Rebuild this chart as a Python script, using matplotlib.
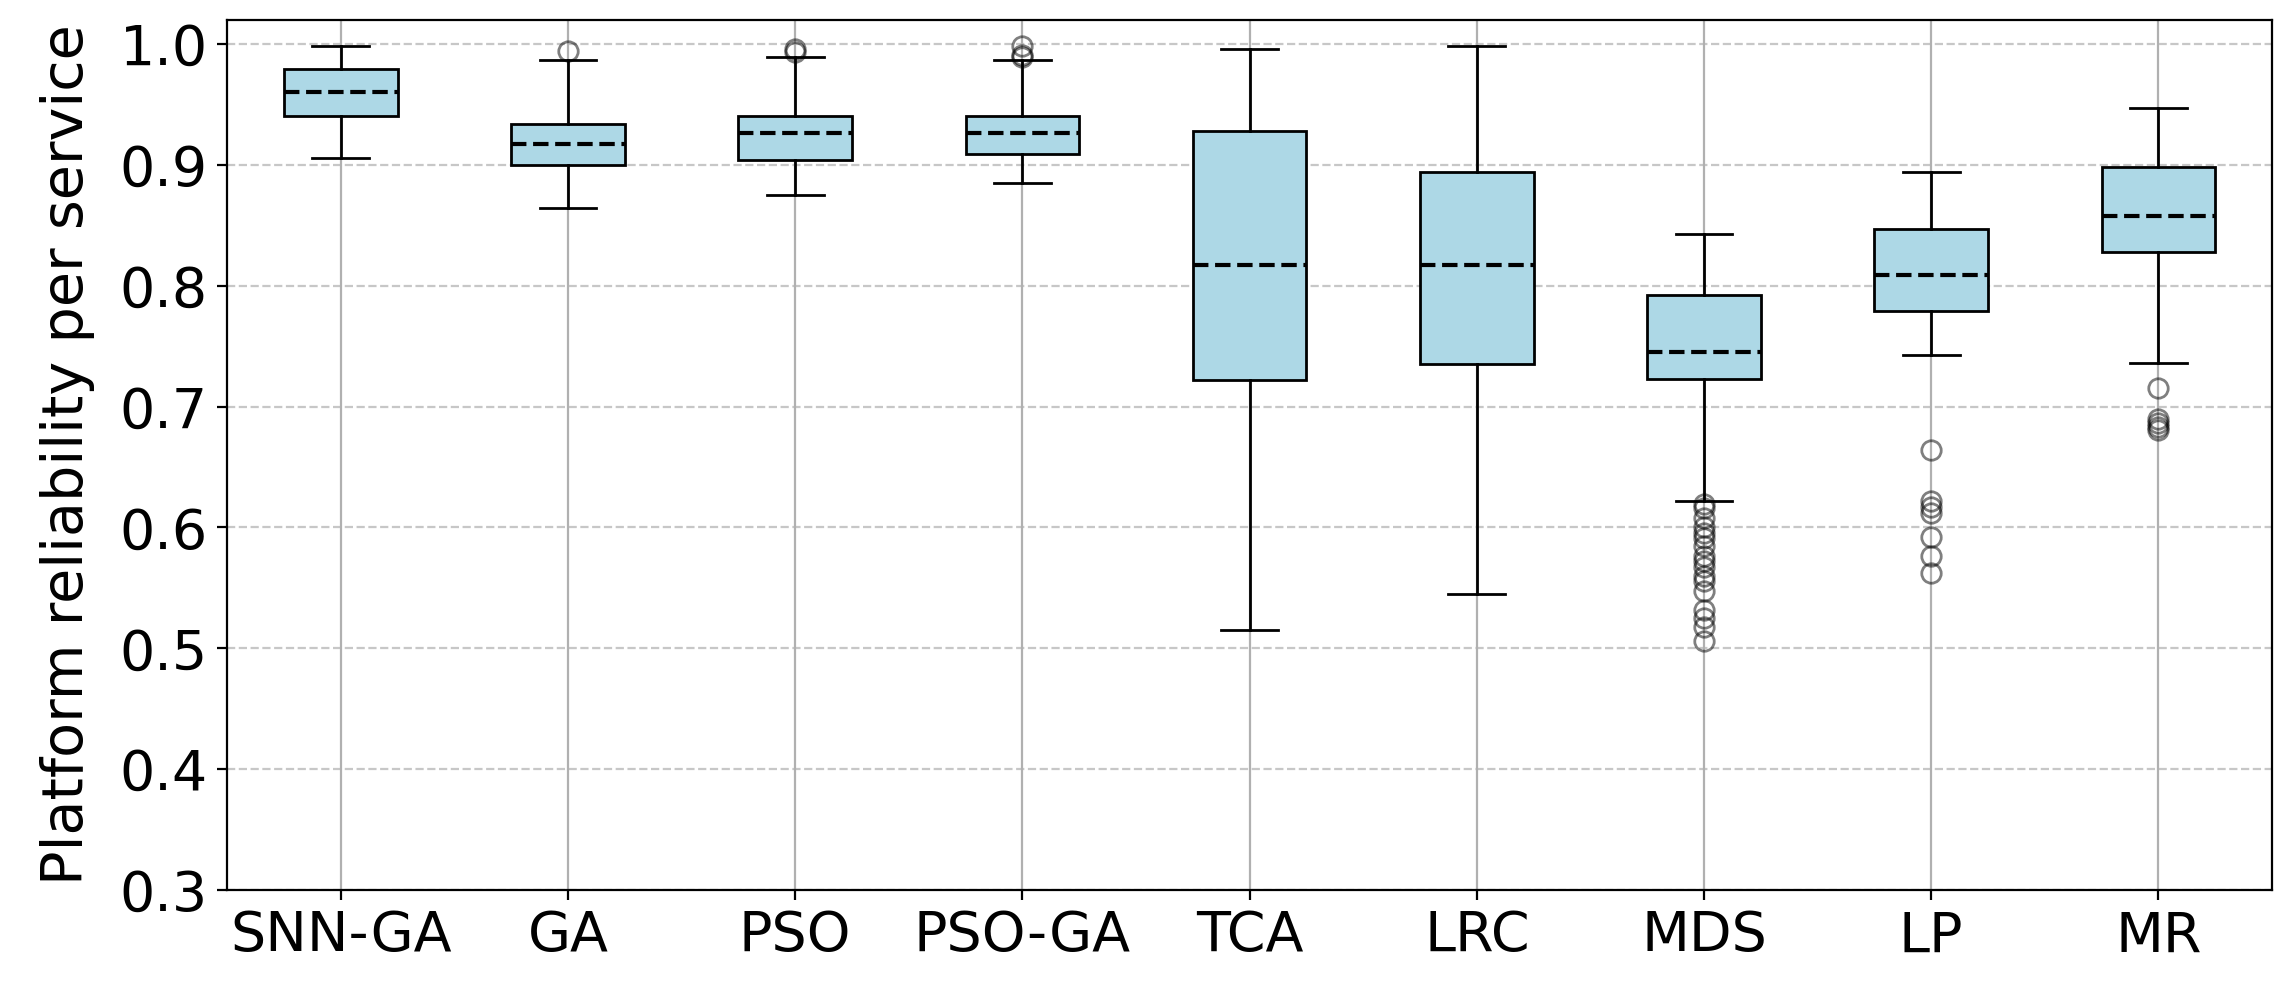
import matplotlib
matplotlib.use("Agg")
import matplotlib.pyplot as plt

# Box statistics
methods = ['SNN-GA', 'GA', 'PSO', 'PSO-GA', 'TCA', 'LRC', 'MDS', 'LP', 'MR']
q1 = [0.940, 0.900, 0.904, 0.909, 0.722, 0.735, 0.723, 0.779, 0.828]
medians = [0.960, 0.917, 0.926, 0.926, 0.817, 0.817, 0.745, 0.809, 0.858]
q3 = [0.979, 0.934, 0.940, 0.940, 0.928, 0.894, 0.792, 0.847, 0.898]
whisker_low = [0.906, 0.864, 0.875, 0.885, 0.515, 0.545, 0.622, 0.743, 0.736]
whisker_high = [0.998, 0.987, 0.989, 0.987, 0.996, 0.998, 0.843, 0.894, 0.947]

fliers_ga = [0.994]
fliers_pso = [0.996, 0.993]
fliers_psoga = [0.998, 0.991, 0.989]
fliers_mds = [0.619, 0.616, 0.608, 0.600, 0.595, 0.591, 0.585, 0.576, 0.572,
              0.567, 0.560, 0.556, 0.547, 0.532, 0.525, 0.518, 0.506]
fliers_lp = [0.664, 0.622, 0.617, 0.612, 0.592, 0.576, 0.562]
fliers_mr = [0.715, 0.690, 0.686, 0.683, 0.681]
fliers = [[], fliers_ga, fliers_pso, fliers_psoga, [], [], fliers_mds, fliers_lp, fliers_mr]

stats = []
for i, name in enumerate(methods):
    stats.append({
        'label': name,
        'q1': q1[i],
        'med': medians[i],
        'q3': q3[i],
        'whislo': whisker_low[i],
        'whishi': whisker_high[i],
        'fliers': fliers[i],
    })

fig, ax = plt.subplots(figsize=(11.475, 4.95), dpi=200)
fig.subplots_adjust(left=0.099, right=0.990, top=0.980, bottom=0.101)

ax.bxp(stats, patch_artist=True, widths=0.5,
       boxprops=dict(facecolor='lightblue', edgecolor='black', linewidth=1.0),
       medianprops=dict(color='black', linestyle='--', linewidth=1.5),
       whiskerprops=dict(color='black', linewidth=1.0),
       capprops=dict(color='black', linewidth=1.0),
       flierprops=dict(marker='o', markerfacecolor='none', markeredgecolor='black',
                       markersize=7, alpha=0.5))

ax.grid(axis='y', linestyle='--', alpha=0.7)
ax.grid(axis='x', color='#b0b0b0', linewidth=0.8)
ax.set_ylim(0.3, 1.02)
ax.set_yticks([0.3, 0.4, 0.5, 0.6, 0.7, 0.8, 0.9, 1.0])
ax.set_ylabel('Platform reliability per service', fontsize=20.6, labelpad=9)
ax.tick_params(axis='both', labelsize=20)

fig.savefig('out.png', dpi=200)
